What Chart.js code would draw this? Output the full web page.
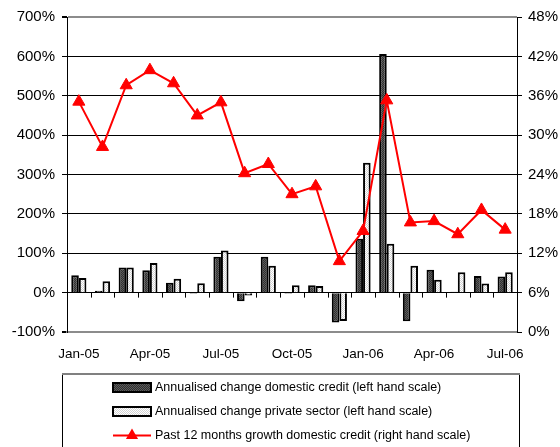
<!DOCTYPE html>
<html>
<head>
<meta charset="utf-8">
<script src="https://cdn.jsdelivr.net/npm/chart.js@4"></script>
<style>
  html,body{margin:0;padding:0;background:#fff;}
  #wrap{width:560px;height:447px;position:relative;overflow:hidden;}
</style>
</head>
<body>
<div id="wrap"><canvas id="c" width="560" height="447"></canvas></div>
<script>
const months = ['Jan-05','Feb-05','Mar-05','Apr-05','May-05','Jun-05','Jul-05','Aug-05','Sep-05','Oct-05','Nov-05','Dec-05','Jan-06','Feb-06','Mar-06','Apr-06','May-06','Jun-06','Jul-06'];
const domesticCredit = [44,5,64,57,25,-3,91,-22,91,-3,19,-76,137,606,-73,58,2,42,41];
const privateSector = [37,29,64,75,35,24,107,-7,68,19,17,-72,330,124,68,33,52,23,52];
const growth12m = [35.1,28.2,37.6,39.9,37.9,33.0,35.0,24.2,25.6,21.0,22.2,10.8,15.4,35.3,16.7,16.9,14.9,18.6,15.6];
const leftTicks = {min:-100, max:700, step:100};
const rightTicks = {min:0, max:48, step:6};
const legendLabels = [
  'Annualised change domestic credit (left hand scale)',
  'Annualised change private sector (left hand scale)',
  'Past 12 months growth domestic credit (right hand scale)'
];

function makePattern(bg, dot){
  const p = document.createElement('canvas');
  p.width = 2; p.height = 2;
  const g = p.getContext('2d');
  g.fillStyle = bg; g.fillRect(0,0,2,2);
  g.fillStyle = dot; g.fillRect(0,0,1,1); g.fillRect(1,1,1,1);
  return g.createPattern(p,'repeat');
}
const darkFill = makePattern('#303030','#5c5c5c');
const lightFill = makePattern('#ffffff','#d4d4d4');
const FONT = "'Liberation Sans', Arial, sans-serif";

const extras = {
  id:'extras',
  afterDatasetsDraw(chart){
    const ctx = chart.ctx;
    const xs = chart.scales.x, yl = chart.scales.y;
    const y0 = yl.getPixelForValue(0);
    const w = xs.getPixelForValue(1) - xs.getPixelForValue(0);
    ctx.save();
    ctx.strokeStyle = '#000';
    ctx.lineWidth = 1;
    ctx.beginPath();
    for(let i=0;i<=months.length;i++){
      const x = Math.round(xs.getPixelForValue(i) - w/2) + 0.5;
      ctx.moveTo(x, y0);
      ctx.lineTo(x, y0+5);
    }
    ctx.stroke();
    ctx.restore();
  },
  afterDraw(chart){
    const ctx = chart.ctx;
    ctx.save();
    ctx.strokeStyle = '#000';
    ctx.lineWidth = 1;
    ctx.strokeRect(62.5, 374.5, 457, 90);
    ctx.strokeStyle = '#808080';
    ctx.lineWidth = 2;
    ctx.beginPath(); ctx.moveTo(62, 374); ctx.lineTo(520, 374); ctx.stroke();
    const rows = [387.5, 411.5, 435.5];
    const mx = 113, mw = 38;
    ctx.fillStyle = darkFill; ctx.fillRect(mx, rows[0]-4.5, mw, 9);
    ctx.strokeStyle = '#000'; ctx.lineWidth = 2; ctx.strokeRect(mx, rows[0]-4.5, mw, 9);
    ctx.fillStyle = lightFill; ctx.fillRect(mx, rows[1]-4.5, mw, 9);
    ctx.strokeRect(mx, rows[1]-4.5, mw, 9);
    ctx.strokeStyle = '#ff0000'; ctx.lineWidth = 2;
    ctx.beginPath(); ctx.moveTo(mx, rows[2]); ctx.lineTo(mx+mw, rows[2]); ctx.stroke();
    ctx.fillStyle = '#ff0000';
    const cx = mx + mw/2, r = 7;
    ctx.beginPath();
    ctx.moveTo(cx, rows[2]-r);
    ctx.lineTo(cx + r*0.866, rows[2]+r/2);
    ctx.lineTo(cx - r*0.866, rows[2]+r/2);
    ctx.closePath(); ctx.fill();
    ctx.fillStyle = '#000';
    ctx.font = '12.5px ' + FONT;
    ctx.textBaseline = 'middle';
    legendLabels.forEach((t,i)=>ctx.fillText(t, 155, rows[i]));
    ctx.restore();
  }
};

new Chart(document.getElementById('c'), {
  data:{
    labels: months,
    datasets:[
      {type:'line', label:legendLabels[2], data:growth12m, yAxisID:'y2', order:0,
       borderColor:'#ff0000', backgroundColor:'#ff0000', borderWidth:2,
       pointStyle:'triangle', pointRadius:7, pointBorderWidth:1, tension:0},
      {type:'bar', label:legendLabels[0], data:domesticCredit, yAxisID:'y', order:1,
       backgroundColor:darkFill, borderColor:'#000', borderWidth:2,
       categoryPercentage:0.64, barPercentage:1},
      {type:'bar', label:legendLabels[1], data:privateSector, yAxisID:'y', order:2,
       backgroundColor:lightFill, borderColor:'#000', borderWidth:2,
       categoryPercentage:0.64, barPercentage:1}
    ]
  },
  options:{
    responsive:false,
    animation:false,
    layout:{padding:{left:0,right:0,top:17,bottom:85}},
    plugins:{legend:{display:false}, tooltip:{enabled:false}},
    scales:{
      x:{
        offset:true,
        grid:{display:false, drawTicks:false},
        border:{display:true, color:'#8c8c8c', width:2},
        ticks:{autoSkip:false, maxRotation:0, padding:14, color:'#000',
               font:{family:FONT, size:13.5},
               callback:function(v,i){ return i%3===0 ? this.getLabelForValue(v) : ''; }},
        afterFit(s){ s.height = 30; }
      },
      y:{
        position:'left',
        min:leftTicks.min, max:leftTicks.max,
        ticks:{stepSize:leftTicks.step, padding:7, color:'#000',
               font:{family:FONT, size:15},
               callback:v=>v+'%'},
        grid:{
          color:c=> (c.tick && (c.tick.value===leftTicks.max || c.tick.value===leftTicks.min)) ? '#8c8c8c' : '#000',
          lineWidth:c=> (c.tick && (c.tick.value===leftTicks.max || c.tick.value===leftTicks.min)) ? 2 : 1,
          tickColor:'#000', tickLength:5
        },
        border:{display:true, color:'#000', width:1},
        afterFit(s){ s.width = 67; }
      },
      y2:{
        position:'right',
        min:rightTicks.min, max:rightTicks.max,
        ticks:{stepSize:rightTicks.step, padding:6, color:'#000',
               font:{family:FONT, size:15},
               callback:v=>v+'%'},
        grid:{drawOnChartArea:false, tickColor:'#000', tickLength:5},
        border:{display:true, color:'#000', width:1},
        afterFit(s){ s.width = 43; }
      }
    }
  },
  plugins:[extras]
});
</script>
</body>
</html>
